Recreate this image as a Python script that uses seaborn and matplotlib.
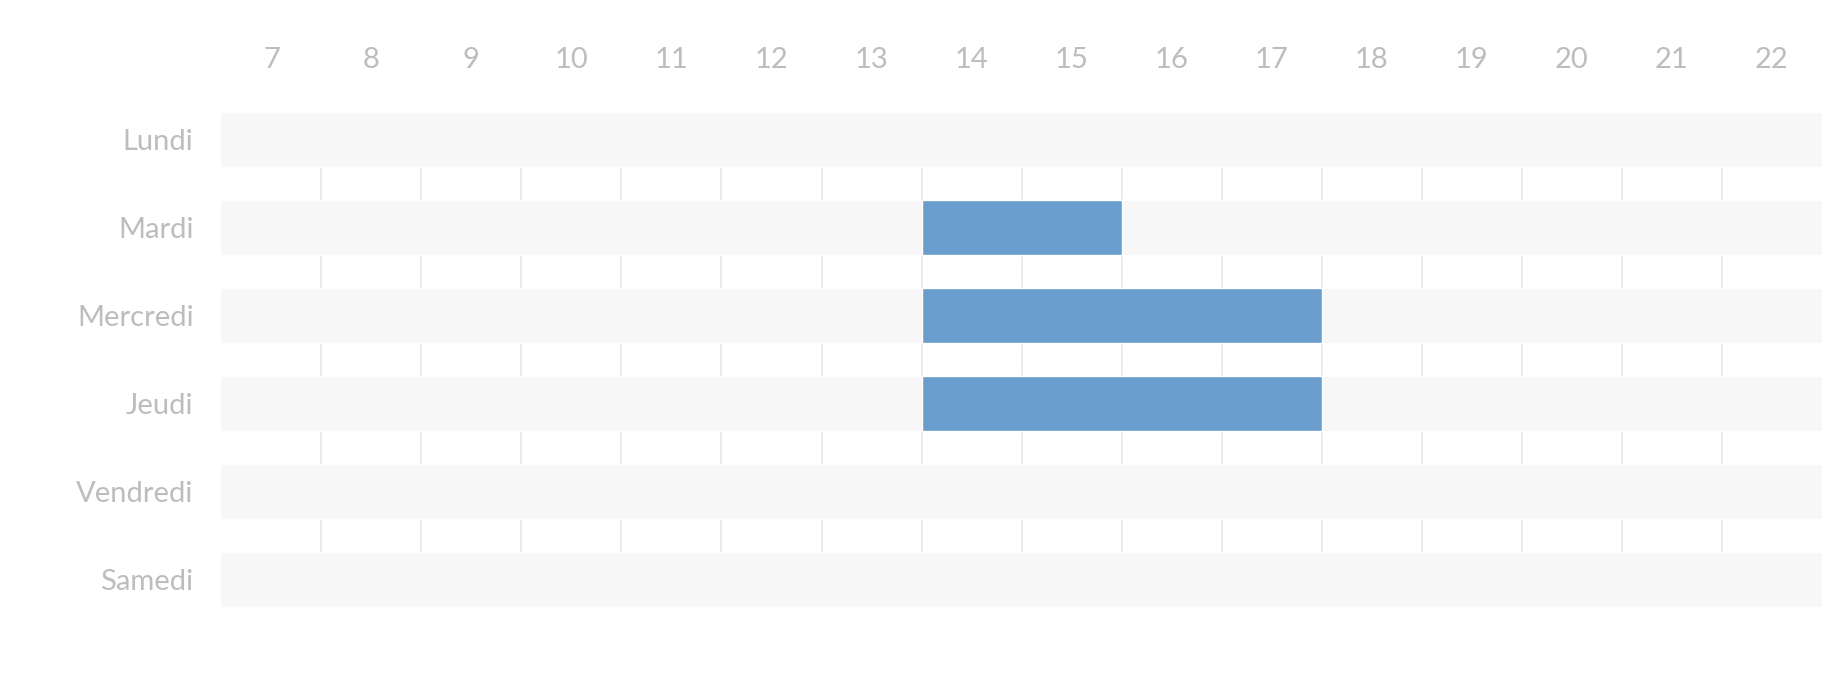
import matplotlib
matplotlib.use("Agg")
import matplotlib.pyplot as plt
import seaborn as sns
import pandas as pd

days = ["Lundi", "Mardi", "Mercredi", "Jeudi", "Vendredi", "Samedi"]
hours = list(range(7, 23))
# busy slots: (day, start hour, end hour)
slot_days = ["Mardi", "Mercredi", "Jeudi"]
slot_start = [14, 14, 14]
slot_end = [16, 18, 18]

sns.set_style("white")
plt.rcParams["font.family"] = ["Lato", "DejaVu Sans"]

fig = plt.figure(figsize=(18.46, 6.74), dpi=100)
ax = fig.add_axes([0.1199, 0.0987, 0.867, 0.7353])

grey = "#bdbdbd"
for h in hours[1:]:
    ax.axvline(h, color="#e8e8e8", lw=1.2, zorder=0)

bg = pd.DataFrame({"day": days, "end": [hours[-1] + 1] * len(days)})
sns.barplot(data=bg, x="end", y="day", color="#f7f7f7", width=0.627,
            saturation=1, ax=ax, zorder=1)

pos = {d: i for i, d in enumerate(days)}
ax.barh([pos[d] for d in slot_days],
        [e - s for s, e in zip(slot_start, slot_end)],
        left=slot_start, height=0.627, color="#6a9ecf", zorder=2)

ax.set_xlim(hours[0], hours[-1] + 1)
ax.set_ylim(len(days) - 1 + 0.3135, -0.3135)
ax.set_xticks([h + 0.5 for h in hours])
ax.set_xticklabels([str(h) for h in hours])
ax.xaxis.tick_top()
ax.tick_params(axis="x", length=0, pad=28, labelsize=21, labelcolor=grey)
ax.tick_params(axis="y", length=0, pad=20, labelsize=21, labelcolor=grey)
ax.set_xlabel("")
ax.set_ylabel("")
for s in ax.spines.values():
    s.set_visible(False)

fig.savefig("out.png", dpi=100)
